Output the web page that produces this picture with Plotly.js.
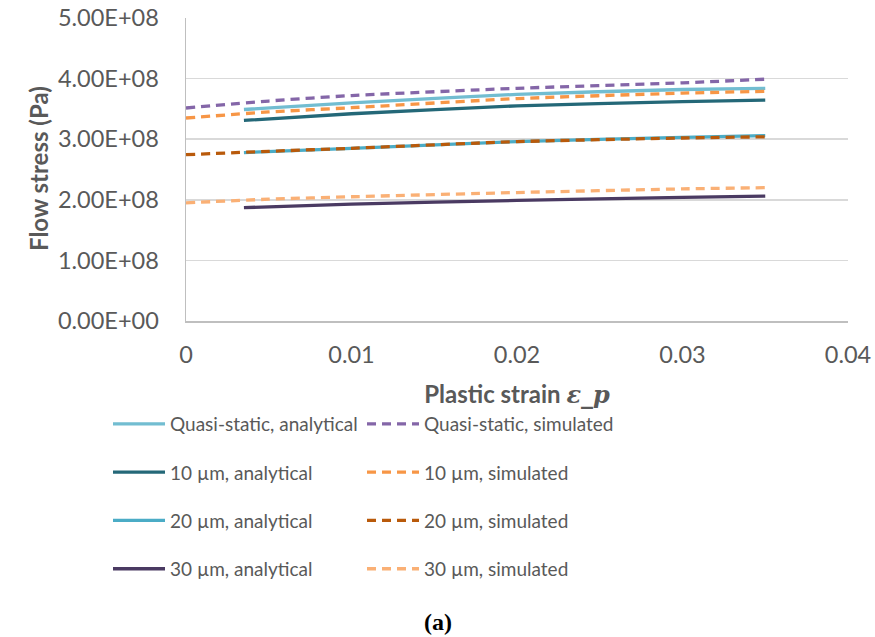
<!DOCTYPE html>
<html>
<head>
<meta charset="utf-8">
<script src="https://cdn.plot.ly/plotly-3.0.1.min.js"></script>
<style>html,body{margin:0;padding:0;background:#fff;}#chart{width:875px;height:637px;}</style>
</head>
<body>
<div id="chart"></div>
<script>
// Plastic strain values
const strainAnalytical = [0.0035, 0.01, 0.02, 0.03, 0.035];
const strainSimulated  = [0, 0.005, 0.01, 0.02, 0.03, 0.035];

// Flow stress (Pa)
const qsAnalytical  = [3.49e8, 3.60e8, 3.74e8, 3.82e8, 3.84e8];
const qsSimulated   = [3.515e8, 3.63e8, 3.72e8, 3.84e8, 3.93e8, 3.99e8];
const um10Analytical = [3.31e8, 3.42e8, 3.55e8, 3.62e8, 3.645e8];
const um10Simulated  = [3.35e8, 3.45e8, 3.52e8, 3.67e8, 3.76e8, 3.79e8];
const um20Analytical = [2.78e8, 2.85e8, 2.96e8, 3.03e8, 3.06e8];
const um20Simulated  = [2.745e8, 2.80e8, 2.85e8, 2.96e8, 3.02e8, 3.04e8];
const um30Analytical = [1.87e8, 1.93e8, 1.99e8, 2.04e8, 2.06e8];
const um30Simulated  = [1.95e8, 2.01e8, 2.05e8, 2.12e8, 2.18e8, 2.20e8];

// Names
const seriesNames = [
  "Quasi-static, analytical", "Quasi-static, simulated",
  "10 µm, analytical", "10 µm, simulated",
  "20 µm, analytical", "20 µm, simulated",
  "30 µm, analytical", "30 µm, simulated"
];

// Axis ticks
const yTickVals = [0, 1e8, 2e8, 3e8, 4e8, 5e8];
const yTickText = ["0.00E+00", "1.00E+08", "2.00E+08", "3.00E+08", "4.00E+08", "5.00E+08"];
const xTickVals = [0, 0.01, 0.02, 0.03, 0.04];
const xTickText = ["0", "0.01", "0.02", "0.03", "0.04"];

const colors = ["#72bdd1", "#8466a8", "#246878", "#f79646", "#4bacc6", "#b95a0b", "#4a3a62", "#fab075"];
const FONT = "Lato, 'Open Sans', sans-serif";

function ana(x, y, i, leg) {
  return {x: x, y: y, name: seriesNames[i], type: "scatter", mode: "lines",
    line: {color: colors[i], width: 3.3, shape: "spline", smoothing: 0.6},
    legend: leg, legendgroup: "g" + i, hoverinfo: "skip"};
}
function sim(x, y, i, leg) {
  return {x: x, y: y, name: seriesNames[i], type: "scatter", mode: "lines",
    line: {color: colors[i], width: 3.3, dash: "9px,6px", shape: "spline", smoothing: 0.6},
    legend: leg, legendgroup: "g" + i, hoverinfo: "skip"};
}

const data = [
  ana(strainAnalytical, qsAnalytical, 0, "legend"),
  ana(strainAnalytical, um10Analytical, 2, "legend"),
  ana(strainAnalytical, um20Analytical, 4, "legend"),
  ana(strainAnalytical, um30Analytical, 6, "legend"),
  sim(strainSimulated, qsSimulated, 1, "legend2"),
  sim(strainSimulated, um10Simulated, 3, "legend2"),
  sim(strainSimulated, um20Simulated, 5, "legend2"),
  sim(strainSimulated, um30Simulated, 7, "legend2")
];

const legendCommon = {
  orientation: "v", traceorder: "grouped", tracegroupgap: 20.6,
  font: {family: FONT, size: 19, color: "#595959"},
  itemwidth: 52, bgcolor: "rgba(0,0,0,0)", borderwidth: 0,
  xref: "container", yref: "container", xanchor: "left", yanchor: "top",
  itemclick: false, itemdoubleclick: false
};

const layout = {
  width: 875, height: 637,
  paper_bgcolor: "#ffffff", plot_bgcolor: "#ffffff",
  margin: {l: 186, r: 27, t: 18, b: 316, autoexpand: false},
  font: {family: FONT, color: "#595959"},
  showlegend: true,
  legend: Object.assign({}, legendCommon, {x: 108 / 875, y: 1 - 405 / 637}),
  legend2: Object.assign({}, legendCommon, {x: 362 / 875, y: 1 - 405 / 637}),
  xaxis: {
    range: [0, 0.04], tickvals: xTickVals, ticktext: xTickText, automargin: true,
    showgrid: false, zeroline: false, showline: true, linecolor: "#bfbfbf", linewidth: 1.5,
    ticks: "", ticklabelstandoff: 12,
    tickfont: {family: FONT, size: 23.5, color: "#595959"},
    title: {text: "<b>Plastic strain </b><span style=\"font-family:'DejaVu Serif',serif\"><b><i>ε_p</i></b></span>",
      font: {family: FONT, size: 24, color: "#595959"}, standoff: 19}
  },
  yaxis: {
    range: [0, 5e8], tickvals: yTickVals, ticktext: yTickText, automargin: true,
    showgrid: true, gridcolor: "#d9d9d9", gridwidth: 1.5,
    zeroline: false, showline: true, linecolor: "#bfbfbf", linewidth: 1.5,
    ticks: "", ticklabelstandoff: 21,
    tickfont: {family: FONT, size: 23.5, color: "#595959"}
  },
  annotations: [{
    text: "<b>Flow stress (Pa)</b>", xref: "paper", yref: "paper",
    x: (38 - 186) / 662, y: (321 - 169) / 303, xanchor: "center", yanchor: "middle",
    textangle: -90, showarrow: false, font: {family: FONT, size: 24, color: "#595959"}
  }, {
    text: "<b>(a)</b>", xref: "paper", yref: "paper",
    x: (438 - 186) / 662, y: (321 - 622) / 303, xanchor: "center", yanchor: "middle",
    showarrow: false, font: {family: "'Liberation Serif', 'Times New Roman', serif", size: 24, color: "#000000"}
  }]
};

Plotly.newPlot("chart", data, layout, {displayModeBar: false, staticPlot: true});
</script>
</body>
</html>
